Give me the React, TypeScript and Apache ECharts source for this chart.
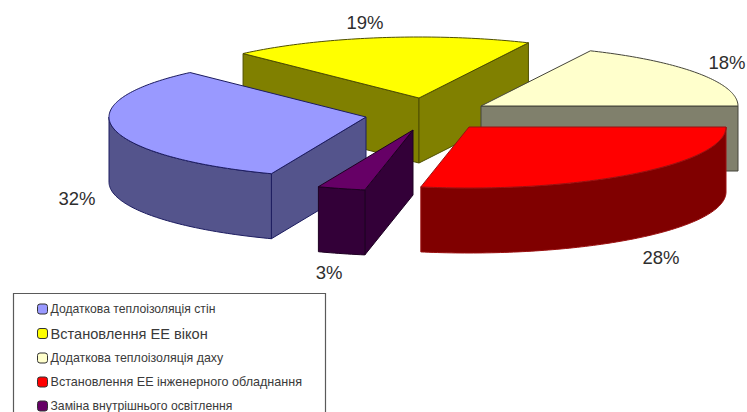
import React, { useEffect, useRef } from "react";
import * as echarts from "echarts";

// Energy-saving measures and their share of the total, clockwise around the pie.
const categories = [
  "Додаткова теплоізоляція стін",
  "Встановлення ЕЕ вікон",
  "Додаткова теплоізоляція даху",
  "Встановлення ЕЕ інженерного обладнання",
  "Заміна внутрішнього освітлення",
];
const shares = [32, 19, 18, 28, 3];

const topColors = ["#9999ff", "#ffff00", "#ffffcc", "#ff0000", "#660066"];
const sideColors = ["#54548c", "#808000", "#80806c", "#800000", "#330038"];
const edgeColors = ["#1c1c60", "#4f4f00", "#45453a", "#9a1010", "#1e0022"];
const legendFontSizes = [12.2, 14.6, 12.4, 12.6, 12.2];

// Pie projection: horizontal/vertical ellipse radii and the extrusion height.
const RX = 257;
const RY = 61;
const DEPTH = 65;
const FIRST_SLICE_DEG = 111.6;

// Pixel position of each exploded slice's tip, and of its percentage label.
const tips = [
  [366, 117],
  [419, 98],
  [481, 106],
  [469, 127],
  [413, 130],
];
const labelAnchors = [
  [77, 198],
  [365, 22],
  [727, 62],
  [661, 257],
  [329, 272],
];

// Painter's order: slices further back go first.
const drawOrder = [1, 2, 0, 3, 4];

const rimPoint = (tip: number[], deg: number, drop = 0) => {
  const r = (deg * Math.PI) / 180;
  return [tip[0] + RX * Math.cos(r), tip[1] + RY * Math.sin(r) + drop];
};

const arcPoints = (tip: number[], from: number, to: number, drop = 0) => {
  const pts: number[][] = [];
  for (let d = from; d < to; d += 1) pts.push(rimPoint(tip, d, drop));
  pts.push(rimPoint(tip, to, drop));
  return pts;
};

const facePolygon = (points: number[][], fill: string, stroke: string) => ({
  type: "polygon",
  shape: { points },
  style: { fill, stroke, lineWidth: 1, lineJoin: "round" },
});

const renderSlice = (index: number) => (_params: any, api: any) => {
  const share = api.value(0);
  const startShare = api.value(1);
  const a = FIRST_SLICE_DEG + startShare * 3.6;
  const b = a + share * 3.6;
  const tip = tips[index];
  const side = sideColors[index];
  const edge = edgeColors[index];
  const children: any[] = [];

  const radialWall = (deg: number) => {
    const p = rimPoint(tip, deg);
    return facePolygon(
      [tip, p, [p[0], p[1] + DEPTH], [tip[0], tip[1] + DEPTH]],
      side,
      edge
    );
  };

  // Radial walls are only seen when they face the viewer.
  if (Math.cos((a * Math.PI) / 180) < 0) children.push(radialWall(a));
  if (Math.cos((b * Math.PI) / 180) > 0.001) children.push(radialWall(b));

  // The outer wall shows only along the front half of the ellipse (0–180°, 360–540°).
  [0, 360].forEach((base) => {
    const from = Math.max(a, base);
    const to = Math.min(b, base + 180);
    if (to > from) {
      const upper = arcPoints(tip, from, to);
      const lower = arcPoints(tip, from, to, DEPTH).reverse();
      children.push(facePolygon([...upper, ...lower], side, edge));
    }
  });

  children.push(facePolygon([tip, ...arcPoints(tip, a, b)], topColors[index], edge));
  children.push({
    type: "text",
    x: labelAnchors[index][0],
    y: labelAnchors[index][1],
    style: {
      text: `${share}%`,
      font: '18.5px "Liberation Sans", Arial, sans-serif',
      fill: "#2e2e2e",
      align: "center",
      verticalAlign: "middle",
    },
  });
  return { type: "group", children };
};

export default function App() {
  const ref = useRef<HTMLDivElement>(null);

  useEffect(() => {
    document.body.style.margin = "0";
    const chart = echarts.init(ref.current!, null, { renderer: "svg" });

    const startShares = shares.map((_, i) =>
      shares.slice(0, i).reduce((sum, v) => sum + v, 0)
    );

    chart.setOption({
      animation: false,
      backgroundColor: "#ffffff",
      graphic: [
        {
          type: "rect",
          // The frame runs past the lower edge of the canvas.
          shape: { x: 13.5, y: 293.5, width: 312, height: 140 },
          style: { fill: "#ffffff", stroke: "#5a5a5a", lineWidth: 1.2 },
          z: 0,
        },
      ],
      legend: {
        orient: "vertical",
        left: 37,
        top: 302,
        height: 200,
        itemWidth: 10,
        itemHeight: 10,
        itemGap: 10,
        padding: 0,
        selectedMode: false,
        icon: "roundRect",
        z: 5,
        data: categories.map((name, i) => ({
          name,
          itemStyle: { color: topColors[i], borderColor: "#333333", borderWidth: 1 },
          textStyle: {
            fontFamily: '"Liberation Sans", Arial, sans-serif',
            fontSize: legendFontSizes[i],
            lineHeight: 14,
            color: "#3a3a3a",
            padding: [0, 0, 0, -2],
          },
        })),
      },
      series: drawOrder.map((i) => ({
        type: "custom",
        name: categories[i],
        coordinateSystem: "none",
        silent: true,
        itemStyle: { color: topColors[i] },
        renderItem: renderSlice(i),
        data: [[shares[i], startShares[i]]],
      })),
    });

    return () => chart.dispose();
  }, []);

  return (
    <div
      ref={ref}
      style={{ position: "absolute", left: 0, top: 0, width: 747, height: 412, overflow: "hidden" }}
    />
  );
}
